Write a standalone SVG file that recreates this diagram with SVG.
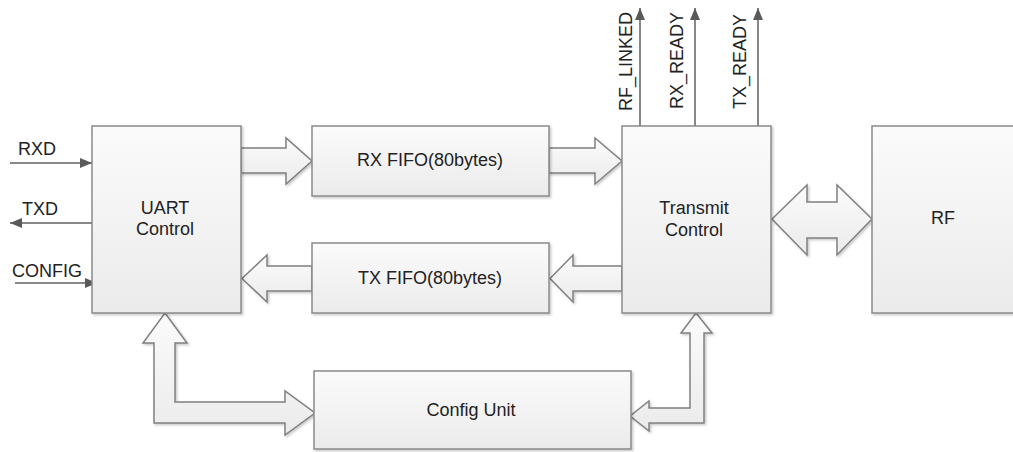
<svg xmlns="http://www.w3.org/2000/svg" width="1013" height="452" viewBox="0 0 1013 452">
<defs>
<linearGradient id="gBox" x1="0" y1="0" x2="0" y2="1">
<stop offset="0" stop-color="#fbfbfb"/>
<stop offset="1" stop-color="#ebebeb"/>
</linearGradient>
<filter id="sh" x="-5%" y="-5%" width="115%" height="115%">
<feDropShadow dx="1.5" dy="1.5" stdDeviation="1" flood-color="#000" flood-opacity="0.22"/>
</filter>
<marker id="arr" markerUnits="userSpaceOnUse" markerWidth="12" markerHeight="10" viewBox="0 0 12 10" refX="12" refY="5" orient="auto">
<path d="M0,0 L12,5 L0,10 z" fill="#5a5a5a"/>
</marker>
<style>
.box{fill:url(#gBox);stroke:#8a8a8a;stroke-width:1.5;filter:url(#sh)}
.blk{fill:url(#gBox);stroke:#808080;stroke-width:1.5;stroke-linejoin:miter;filter:url(#sh)}
.sig{fill:none;stroke:#606060;stroke-width:1.5;marker-end:url(#arr)}
text{font-family:"Liberation Sans",Arial,sans-serif;font-size:18px;fill:#222}
.c{text-anchor:middle}
</style>
</defs>
<rect width="1013" height="452" fill="#ffffff"/>

<g id="connectors">
<polygon class="blk" points="241,148 286,148 286,138 312,161 286,184 286,173 241,173"/>
<polygon class="blk" points="549,148 595,148 595,138 622,161 595,184 595,173 549,173"/>
<polygon class="blk" points="622,266 573,266 573,255 550,278.5 573,302 573,291 622,291"/>
<polygon class="blk" points="312,266 267,266 267,255 242,278.5 267,302 267,291 312,291"/>
<polygon class="blk" points="772,219 807,185 807,202 837,202 837,185 872,219 837,255 837,238 807,238 807,255"/>
<polygon class="blk" points="165,313 187,343 175,343 175,402 285,402 285,391 315,413 285,435 285,423 154,423 154,343 143,343"/>
<polygon class="blk" points="696,313 712,333 704,333 704,423 649,423 649,431 630,416 649,401 649,408 690,408 690,333 681,333"/>
<line class="sig" x1="10" y1="163" x2="92" y2="163"/>
<line class="sig" x1="92" y1="223" x2="10" y2="223"/>
<line class="sig" x1="15" y1="283" x2="97" y2="283"/>
<line class="sig" x1="640" y1="126" x2="640" y2="8"/>
<line class="sig" x1="695" y1="126" x2="695" y2="8"/>
<line class="sig" x1="758" y1="126" x2="758" y2="8"/>
<text x="18" y="155">RXD</text>
<text x="22" y="215">TXD</text>
<text x="12" y="277">CONFIG</text>
<text transform="translate(632,111) rotate(-90)">RF_LINKED</text>
<text transform="translate(683,109) rotate(-90)">RX_READY</text>
<text transform="translate(746,109) rotate(-90)">TX_READY</text>
</g>

<g id="uart">
<rect class="box" x="92" y="126" width="149" height="187"/>
<text class="c" x="165" y="214">UART</text>
<text class="c" x="165" y="235">Control</text>
</g>
<g id="rxfifo">
<rect class="box" x="312" y="126" width="237" height="70"/>
<text class="c" x="430" y="166">RX FIFO(80bytes)</text>
</g>
<g id="txfifo">
<rect class="box" x="312" y="243" width="237" height="70"/>
<text class="c" x="430" y="284">TX FIFO(80bytes)</text>
</g>
<g id="transmit">
<rect class="box" x="622" y="126" width="149" height="187"/>
<text class="c" x="694" y="214">Transmit</text>
<text class="c" x="694" y="236">Control</text>
</g>
<g id="rf">
<rect class="box" x="872" y="126" width="150" height="187"/>
<text class="c" x="943" y="224">RF</text>
</g>
<g id="config">
<rect class="box" x="314" y="371" width="317" height="78"/>
<text class="c" x="471" y="416">Config Unit</text>
</g>
</svg>
